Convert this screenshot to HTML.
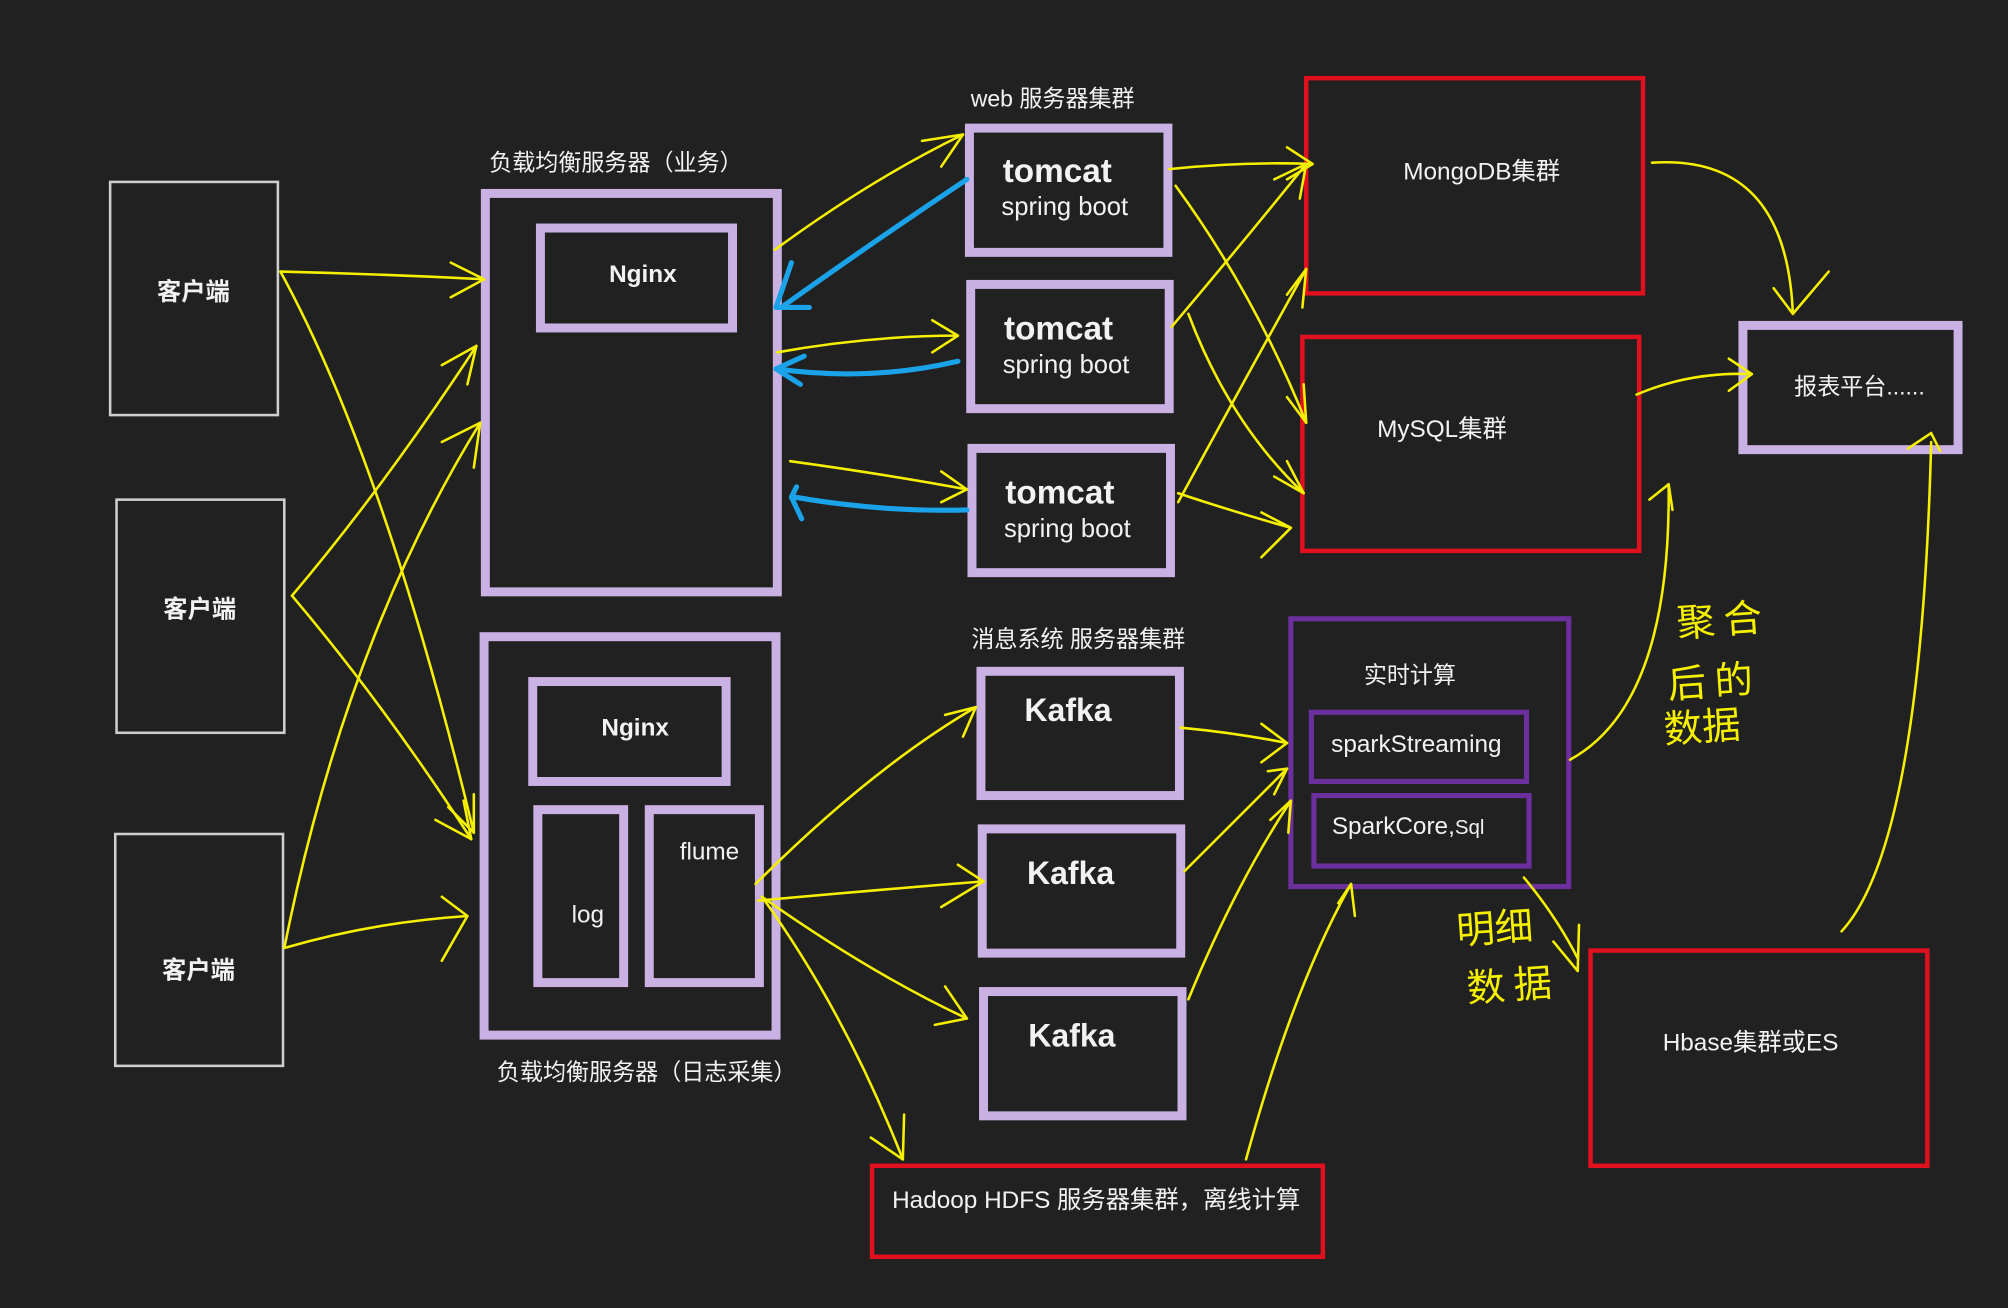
<!DOCTYPE html>
<html><head><meta charset="utf-8"><style>
html,body{margin:0;padding:0;background:#212121;width:2008px;height:1308px;overflow:hidden}
svg{display:block}
text{font-family:"Liberation Sans","Noto Sans CJK SC",sans-serif;fill:#f2f2f2}
.y{fill:none;stroke:#f5f000;stroke-width:2;stroke-linecap:round;stroke-linejoin:round}
.b{fill:none;stroke:#1aa3e8;stroke-width:4;stroke-linecap:round;stroke-linejoin:round}
.p{fill:none;stroke:#c9b1e3;stroke-width:7}
.r{fill:none;stroke:#e0101e;stroke-width:3.5}
.w{fill:none;stroke:#cfcfcf;stroke-width:2}
.d{fill:none;stroke:#6c2f9e;stroke-width:4}
.hw text{fill:#f5f000;font-family:"WenQuanYi Zen Hei","Noto Sans CJK SC",sans-serif}
</style></head><body>
<svg width="2008" height="1308" viewBox="0 0 1568 1021" preserveAspectRatio="none" xmlns="http://www.w3.org/2000/svg">
<rect width="1568" height="1021" fill="#212121"/>
<rect class="w" x="86" y="142" width="131" height="182"/>
<rect class="w" x="91" y="390" width="131" height="182"/>
<rect class="w" x="90" y="651" width="131" height="181"/>
<text x="151" y="234" font-size="19" font-weight="bold" text-anchor="middle">客户端</text>
<text x="156" y="482" font-size="19" font-weight="bold" text-anchor="middle">客户端</text>
<text x="155" y="764" font-size="19" font-weight="bold" text-anchor="middle">客户端</text>
<rect class="p" x="379" y="151" width="228" height="311"/>
<rect class="p" x="422" y="178" width="150" height="78"/>
<text x="502" y="220" font-size="19" font-weight="bold" text-anchor="middle">Nginx</text>
<text x="481" y="133" font-size="18" text-anchor="middle">负载均衡服务器（业务）</text>
<rect class="p" x="378" y="497" width="228" height="311"/>
<rect class="p" x="416" y="532" width="151" height="78"/>
<text x="496" y="574" font-size="19" font-weight="bold" text-anchor="middle">Nginx</text>
<rect class="p" x="420" y="632" width="67" height="135"/>
<text x="459" y="720" font-size="19" text-anchor="middle">log</text>
<rect class="p" x="507" y="632" width="86" height="135"/>
<text x="554" y="671" font-size="19" text-anchor="middle">flume</text>
<text x="505" y="843" font-size="18" text-anchor="middle">负载均衡服务器（日志采集）</text>
<text x="822" y="83" font-size="18" text-anchor="middle">web 服务器集群</text>
<rect class="p" x="757" y="100" width="155" height="97"/>
<rect class="p" x="758" y="222" width="155" height="97"/>
<rect class="p" x="759" y="350" width="155" height="97"/>
<g font-size="26" font-weight="bold"><text x="783" y="142">tomcat</text><text x="784" y="265">tomcat</text><text x="785" y="393">tomcat</text></g>
<g font-size="20"><text x="782" y="168">spring boot</text><text x="783" y="291">spring boot</text><text x="784" y="419">spring boot</text></g>
<text x="842" y="505" font-size="18" text-anchor="middle">消息系统 服务器集群</text>
<rect class="p" x="766" y="524" width="155" height="97"/>
<rect class="p" x="767" y="647" width="155" height="97"/>
<rect class="p" x="768" y="774" width="155" height="97"/>
<g font-size="25" font-weight="bold" text-anchor="middle"><text x="834" y="563">Kafka</text><text x="836" y="690">Kafka</text><text x="837" y="817">Kafka</text></g>
<rect class="r" x="1020" y="61" width="263" height="168"/>
<text x="1157" y="140" font-size="19" text-anchor="middle">MongoDB集群</text>
<rect class="r" x="1017" y="263" width="263" height="167"/>
<text x="1126" y="341" font-size="19" text-anchor="middle">MySQL集群</text>
<rect class="r" x="1242" y="742" width="263" height="168"/>
<text x="1367" y="820" font-size="19" text-anchor="middle">Hbase集群或ES</text>
<rect class="r" x="681" y="910" width="352" height="71"/>
<text x="856" y="943" font-size="19" text-anchor="middle">Hadoop HDFS 服务器集群，离线计算</text>
<rect class="d" x="1008" y="483" width="217" height="209"/>
<text x="1101" y="533" font-size="18" text-anchor="middle">实时计算</text>
<rect class="d" x="1024" y="556" width="168" height="54"/>
<text x="1106" y="587" font-size="19" text-anchor="middle">sparkStreaming</text>
<rect class="d" x="1026" y="621" width="168" height="55"/>
<text x="1040" y="651" font-size="19">SparkCore,<tspan font-size="16">Sql</tspan></text>
<rect class="p" x="1361" y="254" width="168" height="97"/>
<text x="1452" y="308" font-size="18" text-anchor="middle">报表平台......</text>
<g class="hw" font-size="30">
<text x="1310" y="497" transform="rotate(-4 1310 497)">聚 合</text>
<text x="1303" y="545" transform="rotate(-4 1303 545)">后 的</text>
<text x="1300" y="580" transform="rotate(-4 1300 580)">数据</text>
<text x="1138" y="737" transform="rotate(-4 1138 737)">明细</text>
<text x="1146" y="782" transform="rotate(-4 1146 782)">数 据</text>
</g>
<g class="y">
<path d="M219 212 Q300 214 378 218"/><path d="M352 205 L378 218 L352 232"/>
<path d="M219 212 Q300 360 370 650"/><path d="M350 630 L370 650 L370 620"/>
<path d="M228 465 Q300 380 372 270"/><path d="M345 285 L372 270 L365 300"/>
<path d="M228 465 Q300 550 368 655"/><path d="M340 640 L368 655 L362 625"/>
<path d="M222 740 Q270 500 375 330"/><path d="M345 345 L375 330 L370 365"/>
<path d="M222 740 Q290 720 365 715"/><path d="M345 700 L365 715 L345 750"/>
<path d="M605 195 Q680 140 752 105"/><path d="M720 110 L752 105 L735 130"/>
<path d="M607 275 Q680 262 748 262"/><path d="M728 250 L748 262 L728 275"/>
<path d="M617 360 Q690 370 755 382"/><path d="M735 368 L755 382 L735 392"/>
<path d="M913 132 Q970 126 1025 128"/><path d="M1005 115 L1025 128 L1005 140"/>
<path d="M918 145 Q980 230 1020 330"/><path d="M1005 310 L1020 330 L1018 300"/>
<path d="M915 255 Q970 190 1020 128"/><path d="M995 140 L1020 128 L1015 155"/>
<path d="M928 245 Q960 330 1018 385"/><path d="M995 372 L1018 385 L1005 360"/>
<path d="M920 392 Q970 300 1020 210"/><path d="M1005 230 L1020 210 L1017 240"/>
<path d="M920 385 Q965 400 1008 412"/><path d="M985 400 L1008 412 L985 435"/>
<path d="M922 568 Q965 572 1005 580"/><path d="M985 565 L1005 580 L985 595"/>
<path d="M925 680 Q965 640 1005 600"/><path d="M990 602 L1005 600 L995 620"/>
<path d="M928 780 Q965 690 1008 625"/><path d="M992 640 L1008 625 L1006 650"/>
<path d="M590 690 Q680 600 762 552"/><path d="M738 558 L762 552 L752 575"/>
<path d="M592 703 Q680 695 768 688"/><path d="M748 675 L768 688 L735 708"/>
<path d="M595 700 Q680 760 755 795"/><path d="M738 770 L755 795 L730 800"/>
<path d="M595 700 Q660 790 705 905"/><path d="M680 888 L705 905 L706 870"/>
<path d="M973 905 Q1010 770 1055 690"/><path d="M1045 705 L1055 690 L1058 715"/>
<path d="M1226 593 Q1305 550 1303 378"/><path d="M1288 390 L1303 378 L1306 398"/>
<path d="M1290 127 Q1395 120 1400 245"/><path d="M1385 225 L1400 245 L1428 212"/>
<path d="M1278 308 Q1320 290 1368 292"/><path d="M1350 280 L1368 292 L1350 305"/>
<path d="M1438 727 Q1500 660 1508 345"/><path d="M1490 350 L1508 338 L1515 352"/>
<path d="M1190 685 Q1215 715 1232 748"/><path d="M1233 722 L1232 758 L1213 735"/>
</g>
<g class="b">
<path d="M755 140 Q680 190 610 240"/><path d="M618 205 L606 240 L632 240"/>
<path d="M748 282 Q680 298 606 288"/><path d="M628 278 L606 288 L625 300"/>
<path d="M755 398 Q690 400 620 388"/><path d="M622 380 L618 388 L626 405"/>
</g>
</svg>
</body></html>
